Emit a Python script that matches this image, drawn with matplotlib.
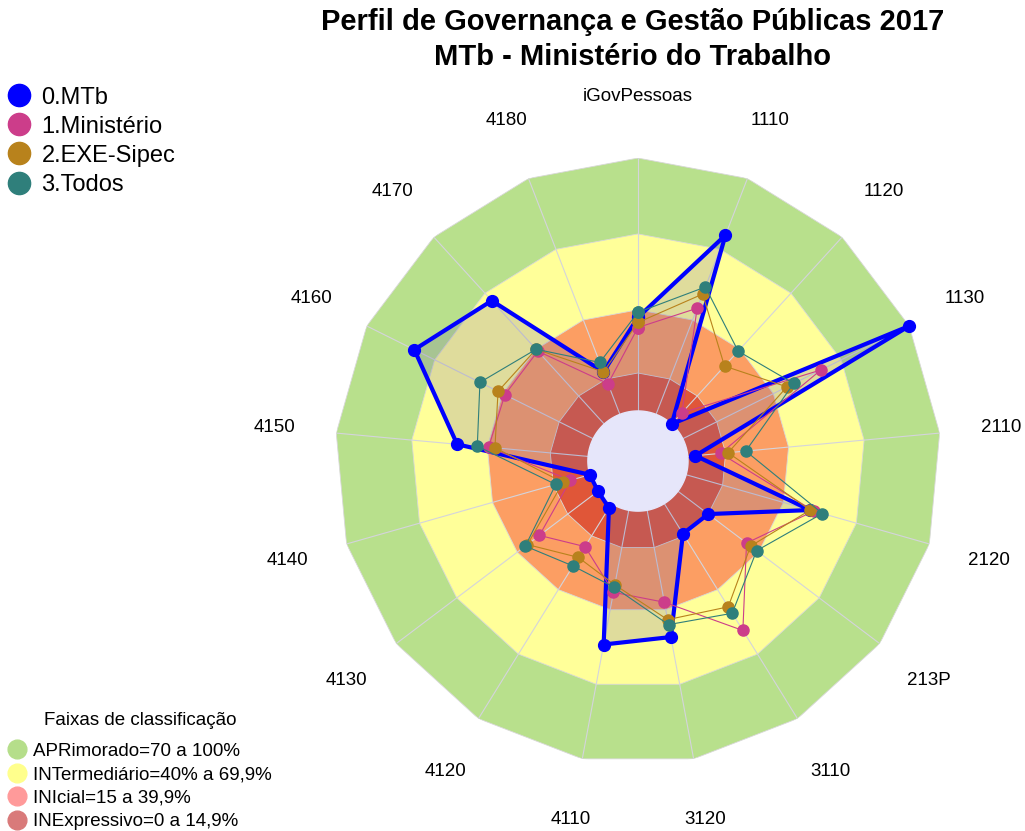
import numpy as np
import matplotlib.pyplot as plt
from matplotlib.lines import Line2D

plt.rcParams['font.family'] = ['Liberation Sans', 'DejaVu Sans']

# eixos do radar (sentido horario a partir do topo)
categories = ['iGovPessoas', '1110', '1120', '1130', '2110', '2120', '213P', '3110',
              '3120', '4110', '4120', '4130', '4140', '4150', '4160', '4170', '4180']

# valores (%)
mtb = [37, 76, 0, 100, 3, 51, 15, 14, 51, 54, 2, 0, 0, 52, 79, 66, 18]
ministerio = [33, 45, 6, 61, 13, 52.5, 34, 59, 37, 33, 20, 29, 8, 39.5, 39, 39, 13]
exe_sipec = [35, 51, 31, 46, 16, 51, 36, 48, 44, 30, 25, 35, 11, 37, 42, 40, 18]
todos = [39, 54, 39, 49, 23, 56, 39, 51, 46, 31, 29, 36, 14, 44, 50, 40, 22]

series_names = ['0.MTb', '1.Ministério', '2.EXE-Sipec', '3.Todos']
series_colors = ['#0000ff', '#cc3d8a', '#b8821c', '#2f7f7b']

# faixas de classificacao (limite superior de cada faixa)
band_limits = [100, 70, 40, 15]
band_colors = ['#b8e08c', '#ffff99', '#fc9e63', '#e05638']
band_labels = ['APRimorado=70 a 100%', 'INTermediário=40% a 69,9%',
               'INIcial=15 a 39,9%', 'INExpressivo=0 a 14,9%']
band_legend_colors = ['#b5de8a', '#ffff8c', '#ff9a9a', '#d97a7a']

n = len(categories)
theta = np.arange(n) * 2 * np.pi / n
theta_closed = np.append(theta, theta[0])


def closed(vals):
    return np.append(vals, vals[0])


fig = plt.figure(figsize=(10.25, 8.31), dpi=100)
ax = fig.add_axes([0.3268, 0.0806, 0.5912, 0.7292], projection='polar')
ax.set_theta_offset(np.pi / 2)
ax.set_theta_direction(-1)
ax.set_ylim(-19.8, 100)
ax.grid(False)
ax.set_xticks([])
ax.set_yticks([])
ax.spines['polar'].set_visible(False)

# faixas poligonais
for lim, col in zip(band_limits, band_colors):
    ax.fill(theta_closed, np.full(n + 1, lim), color=col, ec='#d8d8d8', lw=0.6, zorder=1)

# raios
for t in theta:
    ax.plot([t, t], [0, 100], color='#d4d4dc', lw=0.8, zorder=2)

# area do MTb
ax.fill(theta_closed, closed(mtb), color='#6e64aa', alpha=0.22, zorder=3)

# furo central
circ = np.linspace(0, 2 * np.pi, 200)
ax.fill(circ, np.zeros_like(circ), color='#e6e6fa', zorder=3.5)

# series
all_series = [mtb, ministerio, exe_sipec, todos]
for i, (vals, col) in enumerate(zip(all_series, series_colors)):
    if i == 0:
        ax.plot(theta_closed, closed(vals), color=col, lw=3, marker='o', ms=8.5,
                zorder=4, clip_on=False)
    else:
        ax.plot(theta_closed, closed(vals), color=col, lw=0.8, marker='o', ms=8,
                zorder=4 + i, clip_on=False)

# rotulos dos eixos
for t, lab in zip(theta, categories):
    ax.text(t, 124.5, lab, ha='center', va='center', fontsize=13.5, clip_on=False)

fig.text(0.617, 1 - 22 / 831, 'Perfil de Governança e Gestão Públicas 2017',
         ha='center', va='center', fontsize=21, fontweight='bold')
fig.text(0.617, 1 - 57 / 831, 'MTb - Ministério do Trabalho',
         ha='center', va='center', fontsize=21, fontweight='bold')

h1 = [Line2D([], [], ls='', marker='o', ms=16, color=c) for c in series_colors]
fig.legend(h1, series_names, loc='upper left', bbox_to_anchor=(-0.008, 1 - 70 / 831),
           frameon=False, fontsize=17, handlelength=0.9, handletextpad=0.5,
           labelspacing=0.3, borderpad=0.2)

h2 = [Line2D([], [], ls='', marker='o', ms=13.5, color=c) for c in band_legend_colors]
leg2 = fig.legend(h2, band_labels, title='Faixas de classificação', loc='lower left',
                  bbox_to_anchor=(-0.004, -0.015), frameon=False, fontsize=13.5,
                  title_fontsize=13.5, handlelength=0.8, handletextpad=0.5,
                  labelspacing=0.345, borderpad=0.2)
leg2._legend_box.sep = 9.5

fig.savefig('out.png', dpi=100)
